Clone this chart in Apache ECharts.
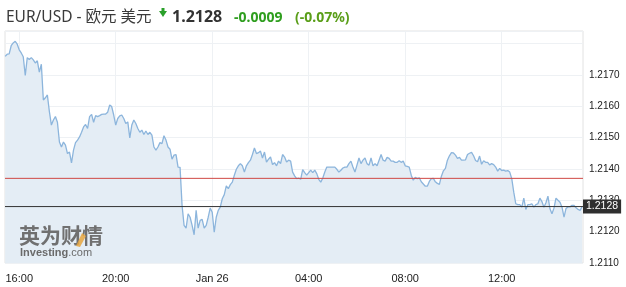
<!DOCTYPE html>
<html><head><meta charset="utf-8">
<script src="https://cdn.jsdelivr.net/npm/echarts@6/dist/echarts.min.js"></script>
<style>html,body{margin:0;padding:0;background:#fff}#c{width:626px;height:287px}</style>
</head><body><div id="c"></div>
<script>
// time in hours since Jan 25 00:00; one sample every 5 minutes from 15:25
const startHour = 15 + 25 / 60;
const stepHour = 5 / 60;
const prices = [
1.21759,1.21766,1.21767,1.21793,1.21802,1.21807,1.21798,1.21780,1.21770,1.21758,
1.21698,1.21755,1.21749,1.21755,1.21748,1.21738,1.21745,1.21709,1.21734,1.21620,
1.21627,1.21636,1.21583,1.21540,1.21556,1.21567,1.21549,1.21486,1.21470,1.21486,
1.21476,1.21449,1.21454,1.21419,1.21460,1.21484,1.21492,1.21502,1.21517,1.21534,
1.21542,1.21529,1.21567,1.21574,1.21549,1.21570,1.21567,1.21570,1.21574,1.21575,
1.21575,1.21581,1.21604,1.21599,1.21572,1.21540,1.21561,1.21569,1.21572,1.21561,
1.21545,1.21550,1.21499,1.21540,1.21556,1.21545,1.21529,1.21517,1.21524,1.21510,
1.21521,1.21510,1.21517,1.21508,1.21470,1.21460,1.21470,1.21484,1.21481,1.21506,
1.21492,1.21470,1.21463,1.21431,1.21444,1.21446,1.21406,1.21405,1.21284,1.21220,
1.21211,1.21257,1.21246,1.21220,1.21190,1.21268,1.21211,1.21236,1.21239,1.21211,
1.21220,1.21246,1.21275,1.21262,1.21198,1.21246,1.21268,1.21278,1.21305,1.21318,
1.21346,1.21337,1.21350,1.21358,1.21380,1.21399,1.21410,1.21417,1.21410,1.21390,
1.21410,1.21420,1.21428,1.21446,1.21467,1.21449,1.21452,1.21457,1.21435,1.21454,
1.21422,1.21431,1.21438,1.21414,1.21420,1.21410,1.21425,1.21417,1.21446,1.21438,
1.21422,1.21428,1.21425,1.21390,1.21378,1.21369,1.21371,1.21367,1.21398,1.21388,
1.21380,1.21388,1.21396,1.21388,1.21396,1.21385,1.21367,1.21358,1.21371,1.21390,
1.21406,1.21406,1.21406,1.21406,1.21406,1.21399,1.21390,1.21396,1.21403,1.21406,
1.21406,1.21417,1.21425,1.21406,1.21390,1.21412,1.21435,1.21417,1.21428,1.21435,
1.21417,1.21412,1.21435,1.21410,1.21417,1.21410,1.21428,1.21446,1.21428,1.21425,
1.21437,1.21434,1.21425,1.21425,1.21421,1.21421,1.21426,1.21421,1.21425,1.21410,
1.21408,1.21406,1.21380,1.21364,1.21373,1.21369,1.21372,1.21359,1.21352,1.21345,
1.21345,1.21360,1.21369,1.21370,1.21359,1.21354,1.21351,1.21377,1.21394,1.21402,
1.21428,1.21442,1.21452,1.21451,1.21444,1.21434,1.21437,1.21428,1.21428,1.21429,
1.21446,1.21450,1.21453,1.21442,1.21427,1.21423,1.21441,1.21415,1.21426,1.21421,
1.21421,1.21413,1.21417,1.21414,1.21406,1.21393,1.21402,1.21395,1.21396,1.21393,
1.21395,1.21390,1.21369,1.21326,1.21289,1.21286,1.21286,1.21278,1.21307,1.21271,
1.21286,1.21286,1.21289,1.21278,1.21286,1.21289,1.21307,1.21296,1.21278,1.21292,
1.21313,1.21273,1.21257,1.21275,1.21307,1.21300,1.21294,1.21278,1.21246,1.21274,
1.21279,1.21279,1.21284,1.21284,1.21276,1.21271,1.21268,1.21280
];
const xTickHours = [16, 20, 24, 28, 32, 36];
const xMinHour = 15.41;
const xMaxHour = 39.37;
const yMin = 1.2110;
const yMax = 1.2184;
const yStep = 0.001;
const prevClose = 1.2137;
const lastPrice = 1.2128;
const lastLabel = '1.2128';
const titleText = 'EUR/USD - 欧元 美元';
const changeText = '-0.0009';
const changePctText = '(-0.07%)';

const axisFont = "'Liberation Sans', Arial, sans-serif";
const headFont = "'Noto Sans', 'Noto Sans CJK SC', sans-serif";
const seriesData = prices.map((p, i) => [startHour + i * stepHour, p]);

const chart = echarts.init(document.getElementById('c'), null, {renderer: 'canvas'});
chart.setOption({
  animation: false,
  backgroundColor: '#fff',
  grid: {left: 5, right: 43, top: 31, bottom: 24, show: true, borderColor: '#e2e2e2', borderWidth: 1},
  xAxis: {
    type: 'value', min: xMinHour, max: xMaxHour,
    axisLine: {show: false},
    axisTick: {show: false, customValues: xTickHours},
    splitLine: {show: true, lineStyle: {color: '#eef1f4', width: 1}},
    axisLabel: {
      customValues: xTickHours, margin: 10, color: '#222', fontSize: 11, fontFamily: axisFont,
      formatter: v => { const h = Math.round(v) % 24; return h === 0 ? 'Jan 26' : String(h).padStart(2, '0') + ':00'; }
    }
  },
  yAxis: {
    type: 'value', position: 'right', min: yMin, max: yMax, interval: yStep,
    axisLine: {show: false}, axisTick: {show: false},
    splitLine: {show: true, lineStyle: {color: '#eef1f4', width: 1}},
    axisLabel: {
      margin: 6, color: '#222', fontSize: 10, fontFamily: axisFont,
      formatter: v => (v > 1.21755 ? '' : v.toFixed(4))
    }
  },
  series: [
    {
      type: 'line', data: seriesData, showSymbol: false, symbol: 'none', z: 2,
      lineStyle: {color: '#8cb5dc', width: 1.3},
      areaStyle: {color: '#e4edf5', opacity: 1, origin: 'start'}
    },
    {
      type: 'line', data: [[xMinHour, prevClose], [xMaxHour, prevClose]], showSymbol: false, symbol: 'none', z: 3,
      silent: true, lineStyle: {color: '#cf4744', width: 1}
    },
    {
      type: 'line', data: [[xMinHour, lastPrice], [xMaxHour, lastPrice]], showSymbol: false, symbol: 'none', z: 4,
      silent: true, lineStyle: {color: '#333', width: 1},
      endLabel: {show: true, formatter: lastLabel, distance: 0, backgroundColor: '#2f2f2f', color: '#fff',
                 padding: [2, 3, 1, 3], lineHeight: 11, fontSize: 10.5, fontFamily: axisFont}
    }
  ],
  graphic: [
    {type: 'text', left: 6, top: 10, style: {text: titleText, font: '15.5px ' + headFont, fill: '#3a3a3a'}},
    {type: 'polygon', shape: {points: [[159, 11], [167, 11], [163, 17]]}, style: {fill: '#2aa02a'}},
    {type: 'rect', shape: {x: 161.5, y: 8, width: 3, height: 3.5}, style: {fill: '#2aa02a'}},
    {type: 'text', left: 172, top: 9, style: {text: lastLabel, font: 'bold 16px ' + headFont, fill: '#333'}},
    {type: 'text', left: 234, top: 11, style: {text: changeText, font: 'bold 14px ' + headFont, fill: '#2f9e1f'}},
    {type: 'text', left: 295, top: 11, style: {text: changePctText, font: 'bold 14px ' + headFont, fill: '#5a9e19'}},
    {type: 'text', left: 19, top: 225, z: 10, style: {text: '英为财情', font: 'bold 21px "Noto Sans CJK SC", sans-serif', fill: '#707070'}},
    {type: 'polygon', z: 11, shape: {points: [[76, 246], [82, 233], [86, 236], [80, 247]]}, style: {fill: '#e8a640', opacity: 0.85}},
    {type: 'text', left: 20, top: 247, z: 10, style: {
      text: '{a|Investing}{b|.com}',
      rich: {a: {font: 'bold 11px ' + axisFont, fill: '#6a6a6a'}, b: {font: '11px ' + axisFont, fill: '#6a6a6a'}}
    }}
  ]
});
</script></body></html>
